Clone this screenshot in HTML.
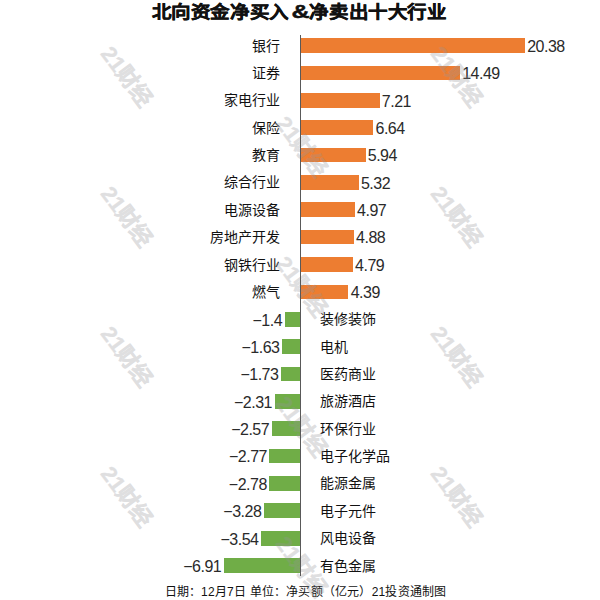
<!DOCTYPE html>
<html lang="zh-CN"><head><meta charset="utf-8">
<style>
html,body{margin:0;padding:0;background:#fff;}
body{width:600px;height:600px;position:relative;overflow:hidden;font-family:"Liberation Sans",sans-serif;color:#1a1a1a;}
.title{position:absolute;left:151.5px;top:1px;transform:scaleY(0.9);transform-origin:0 0;font-size:19.5px;font-weight:700;-webkit-text-stroke:0.5px #111;white-space:nowrap;line-height:24px;color:#111;letter-spacing:-0.4px;}
.amp{display:inline-block;font-size:21px;transform:scaleX(1.2);margin:0 2px 0 4px;}
.bar{position:absolute;height:14.7px;}
.pos{background:#ed7d31;}
.neg{background:#70ad47;}
.axis{position:absolute;left:300px;top:34.5px;width:1px;height:541.5px;background:#595959;z-index:4;}
.val{position:absolute;font-size:16px;line-height:16px;margin-top:-6.7px;white-space:nowrap;letter-spacing:-0.5px;color:#2a2a2a;}
.val.r{text-align:right;}
.cat{position:absolute;font-size:14px;line-height:16px;margin-top:-8px;white-space:nowrap;color:#111;}
.cat.r{right:320px;text-align:right;}
.cat.l{left:320px;}
.foot{position:absolute;left:164.5px;top:584px;font-size:12px;line-height:16px;letter-spacing:0.2px;white-space:nowrap;color:#111;}
.wm{position:absolute;z-index:3;width:80px;height:24px;margin-left:-40px;margin-top:-12px;text-align:center;font-size:22px;line-height:24px;font-weight:bold;color:rgb(150,150,155);-webkit-text-stroke:0.4px rgb(150,150,155);opacity:0.3;transform:rotate(53deg);white-space:nowrap;}
</style></head><body>
<div class="title">北向资金净买入<span class="amp">&amp;</span>净卖出十大行业</div>
<div class="bar pos" style="top:38.20px;left:300.00px;width:225.00px"></div>
<div class="val" style="top:45.55px;left:527.20px">20.38</div>
<div class="cat r" style="top:45.55px">银行</div>
<div class="bar pos" style="top:65.57px;left:300.00px;width:159.97px"></div>
<div class="val" style="top:72.92px;left:462.17px">14.49</div>
<div class="cat r" style="top:72.92px">证券</div>
<div class="bar pos" style="top:92.94px;left:300.00px;width:79.60px"></div>
<div class="val" style="top:100.29px;left:381.80px">7.21</div>
<div class="cat r" style="top:100.29px">家电行业</div>
<div class="bar pos" style="top:120.31px;left:300.00px;width:73.31px"></div>
<div class="val" style="top:127.66px;left:375.51px">6.64</div>
<div class="cat r" style="top:127.66px">保险</div>
<div class="bar pos" style="top:147.68px;left:300.00px;width:65.58px"></div>
<div class="val" style="top:155.03px;left:367.78px">5.94</div>
<div class="cat r" style="top:155.03px">教育</div>
<div class="bar pos" style="top:175.05px;left:300.00px;width:58.73px"></div>
<div class="val" style="top:182.40px;left:360.93px">5.32</div>
<div class="cat r" style="top:182.40px">综合行业</div>
<div class="bar pos" style="top:202.42px;left:300.00px;width:54.87px"></div>
<div class="val" style="top:209.77px;left:357.07px">4.97</div>
<div class="cat r" style="top:209.77px">电源设备</div>
<div class="bar pos" style="top:229.79px;left:300.00px;width:53.88px"></div>
<div class="val" style="top:237.14px;left:356.08px">4.88</div>
<div class="cat r" style="top:237.14px">房地产开发</div>
<div class="bar pos" style="top:257.16px;left:300.00px;width:52.88px"></div>
<div class="val" style="top:264.51px;left:355.08px">4.79</div>
<div class="cat r" style="top:264.51px">钢铁行业</div>
<div class="bar pos" style="top:284.53px;left:300.00px;width:48.47px"></div>
<div class="val" style="top:291.88px;left:350.67px">4.39</div>
<div class="cat r" style="top:291.88px">燃气</div>
<div class="bar neg" style="top:311.90px;left:284.54px;width:15.46px"></div>
<div class="val r" style="top:319.25px;right:317.96px">−1.4</div>
<div class="cat l" style="top:319.25px">装修装饰</div>
<div class="bar neg" style="top:339.27px;left:282.00px;width:18.00px"></div>
<div class="val r" style="top:346.62px;right:320.50px">−1.63</div>
<div class="cat l" style="top:346.62px">电机</div>
<div class="bar neg" style="top:366.64px;left:280.90px;width:19.10px"></div>
<div class="val r" style="top:373.99px;right:321.60px">−1.73</div>
<div class="cat l" style="top:373.99px">医药商业</div>
<div class="bar neg" style="top:394.01px;left:274.50px;width:25.50px"></div>
<div class="val r" style="top:401.36px;right:328.00px">−2.31</div>
<div class="cat l" style="top:401.36px">旅游酒店</div>
<div class="bar neg" style="top:421.38px;left:271.63px;width:28.37px"></div>
<div class="val r" style="top:428.73px;right:330.87px">−2.57</div>
<div class="cat l" style="top:428.73px">环保行业</div>
<div class="bar neg" style="top:448.75px;left:269.42px;width:30.58px"></div>
<div class="val r" style="top:456.10px;right:333.08px">−2.77</div>
<div class="cat l" style="top:456.10px">电子化学品</div>
<div class="bar neg" style="top:476.12px;left:269.31px;width:30.69px"></div>
<div class="val r" style="top:483.47px;right:333.19px">−2.78</div>
<div class="cat l" style="top:483.47px">能源金属</div>
<div class="bar neg" style="top:503.49px;left:263.79px;width:36.21px"></div>
<div class="val r" style="top:510.84px;right:338.71px">−3.28</div>
<div class="cat l" style="top:510.84px">电子元件</div>
<div class="bar neg" style="top:530.86px;left:260.92px;width:39.08px"></div>
<div class="val r" style="top:538.21px;right:341.58px">−3.54</div>
<div class="cat l" style="top:538.21px">风电设备</div>
<div class="bar neg" style="top:558.23px;left:223.71px;width:76.29px"></div>
<div class="val r" style="top:565.58px;right:378.79px">−6.91</div>
<div class="cat l" style="top:565.58px">有色金属</div>
<div class="axis"></div>
<div class="foot">日期：12月7日 单位：净买额（亿元）21投资通制图</div>
<div class="wm" style="left:125.5px;top:77.2px">21财经</div>
<div class="wm" style="left:125.5px;top:217.2px">21财经</div>
<div class="wm" style="left:125.5px;top:357.2px">21财经</div>
<div class="wm" style="left:125.5px;top:497.2px">21财经</div>
<div class="wm" style="left:456.0px;top:77.2px">21财经</div>
<div class="wm" style="left:456.0px;top:217.2px">21财经</div>
<div class="wm" style="left:456.0px;top:357.2px">21财经</div>
<div class="wm" style="left:456.0px;top:497.2px">21财经</div>
<div class="wm" style="left:300.7px;top:147.2px">21财经</div>
<div class="wm" style="left:300.7px;top:287.2px">21财经</div>
<div class="wm" style="left:300.7px;top:427.2px">21财经</div>
<div class="wm" style="left:300.7px;top:567.2px">21财经</div>
</body></html>
